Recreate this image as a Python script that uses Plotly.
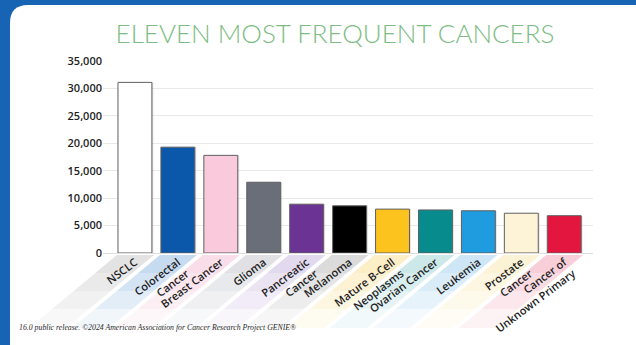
import plotly.graph_objects as go

categories = ["NSCLC", "Colorectal<br>Cancer", "Breast Cancer", "Glioma",
              "Pancreatic<br>Cancer", "Melanoma", "Mature B-Cell<br>Neoplasms",
              "Ovarian Cancer", "Leukemia", "Prostate<br>Cancer",
              "Cancer of<br>Unknown Primary"]
counts = [31100, 19300, 17800, 12900, 8900, 8600, 8000, 7850, 7700, 7250, 6800]
bar_colors = ["#ffffff", "#0b57a9", "#f9cadb", "#6a6e79", "#6b3494", "#000000",
              "#fcc31f", "#078b8c", "#1f9bdf", "#fdf4d7", "#e3163f"]
stripe_colors = ["#dcdcdc", "#b9d2ec", "#f8d6e4", "#d9dadf", "#dcd0ea", "#d2d2d2",
                 "#fbeab6", "#bfe2e4", "#c2e0f4", "#fbf0cc", "#f6c3cf"]
y_ticks = [0, 5000, 10000, 15000, 20000, 25000, 30000, 35000]

W, H = 636, 345
L, R, T, B = 103, 593, 61, 253
XMIN, XMAX = -0.744, 10.67


def px(x):
    return (x - L) / (R - L)


def py(y):
    return (B - y) / (B - T)


def cat_px(i):
    return L + (i - XMIN) / (XMAX - XMIN) * (R - L)


shapes = []
# white rounded panel
pl, pt, pr, pb, rad = 10, 5, 660, 370, 18
panel = (f"M {px(pl)},{py(pt + rad)} "
         f"Q {px(pl)},{py(pt)} {px(pl + rad)},{py(pt)} "
         f"L {px(pr - rad)},{py(pt)} Q {px(pr)},{py(pt)} {px(pr)},{py(pt + rad)} "
         f"L {px(pr)},{py(pb - rad)} Q {px(pr)},{py(pb)} {px(pr - rad)},{py(pb)} "
         f"L {px(pl + rad)},{py(pb)} Q {px(pl)},{py(pb)} {px(pl)},{py(pb - rad)} Z")
shapes.append(dict(type="path", xref="paper", yref="paper", path=panel,
                   fillcolor="#ffffff", line=dict(width=0), layer="below"))

# diagonal decorative stripes under the category labels
slope = 1.2
y0s = [255, 273, 291, 309]
y1s = [273, 291, 309, 328]
ops = [0.8, 0.6, 0.4, 0.2]
for i, col in enumerate(stripe_colors):
    c = cat_px(i)
    for ya, yb, op in zip(y0s, y1s, ops):
        da = (ya - 255) * slope
        db = (yb - 255) * slope
        path = (f"M {px(c - 18 - da)},{py(ya)} L {px(c + 19 - da)},{py(ya)} "
                f"L {px(c + 19 - db)},{py(yb)} L {px(c - 18 - db)},{py(yb)} Z")
        shapes.append(dict(type="path", xref="paper", yref="paper", path=path,
                           fillcolor=col, opacity=op, line=dict(width=0),
                           layer="below"))

fig = go.Figure()
# soft shadow
fig.add_trace(go.Bar(x=categories, y=counts, width=0.79, offset=-0.36,
                     marker=dict(color="rgba(0,0,0,0.10)", line=dict(width=0)),
                     hoverinfo="skip", showlegend=False))
fig.add_trace(go.Bar(x=categories, y=counts, width=0.79, offset=-0.395,
                     marker=dict(color=bar_colors,
                                 line=dict(color="#606060", width=1)),
                     showlegend=False))

fig.update_layout(
    width=W, height=H,
    margin=dict(l=L, r=W - R, t=T, b=H - B, autoexpand=False),
    paper_bgcolor="#1864b4",
    plot_bgcolor="rgba(0,0,0,0)",
    barmode="overlay",
    shapes=shapes,
    title=dict(text="ELEVEN MOST FREQUENT CANCERS", x=335 / W, xanchor="center",
               y=1 - 34 / H, yanchor="middle", xref="container", yref="container",
               font=dict(family="Lato", size=26, color="#7dbd84", weight=300)),
    xaxis=dict(type="category", range=[XMIN, XMAX], tickangle=-37, automargin=False,
               showgrid=False, zeroline=False, showline=False, ticks="",
               tickfont=dict(family="Open Sans", size=11, color="#1e1e1e", weight=600)),
    yaxis=dict(range=[0, 35000], tickvals=y_ticks, tickformat=",", automargin=False,
               showgrid=True, gridcolor="#e9e9e9", gridwidth=1,
               zeroline=True, zerolinecolor="#dedede", zerolinewidth=1,
               showline=False, ticks="",
               tickfont=dict(family="Open Sans", size=11, color="#1e1e1e", weight=600)),
    annotations=[
        dict(text="16.0 public release. ©2024 American Association for Cancer Research Project GENIE®",
             xref="paper", yref="paper", x=px(17), y=py(327), xanchor="left",
             yanchor="middle", showarrow=False,
             font=dict(family="Liberation Serif", size=7.8, color="#2a2a2a", style="italic")),
    ],
)

fig.write_html("out.html", config={"displayModeBar": False},
               post_script="document.body.style.margin='0';document.body.style.overflow='hidden';")
